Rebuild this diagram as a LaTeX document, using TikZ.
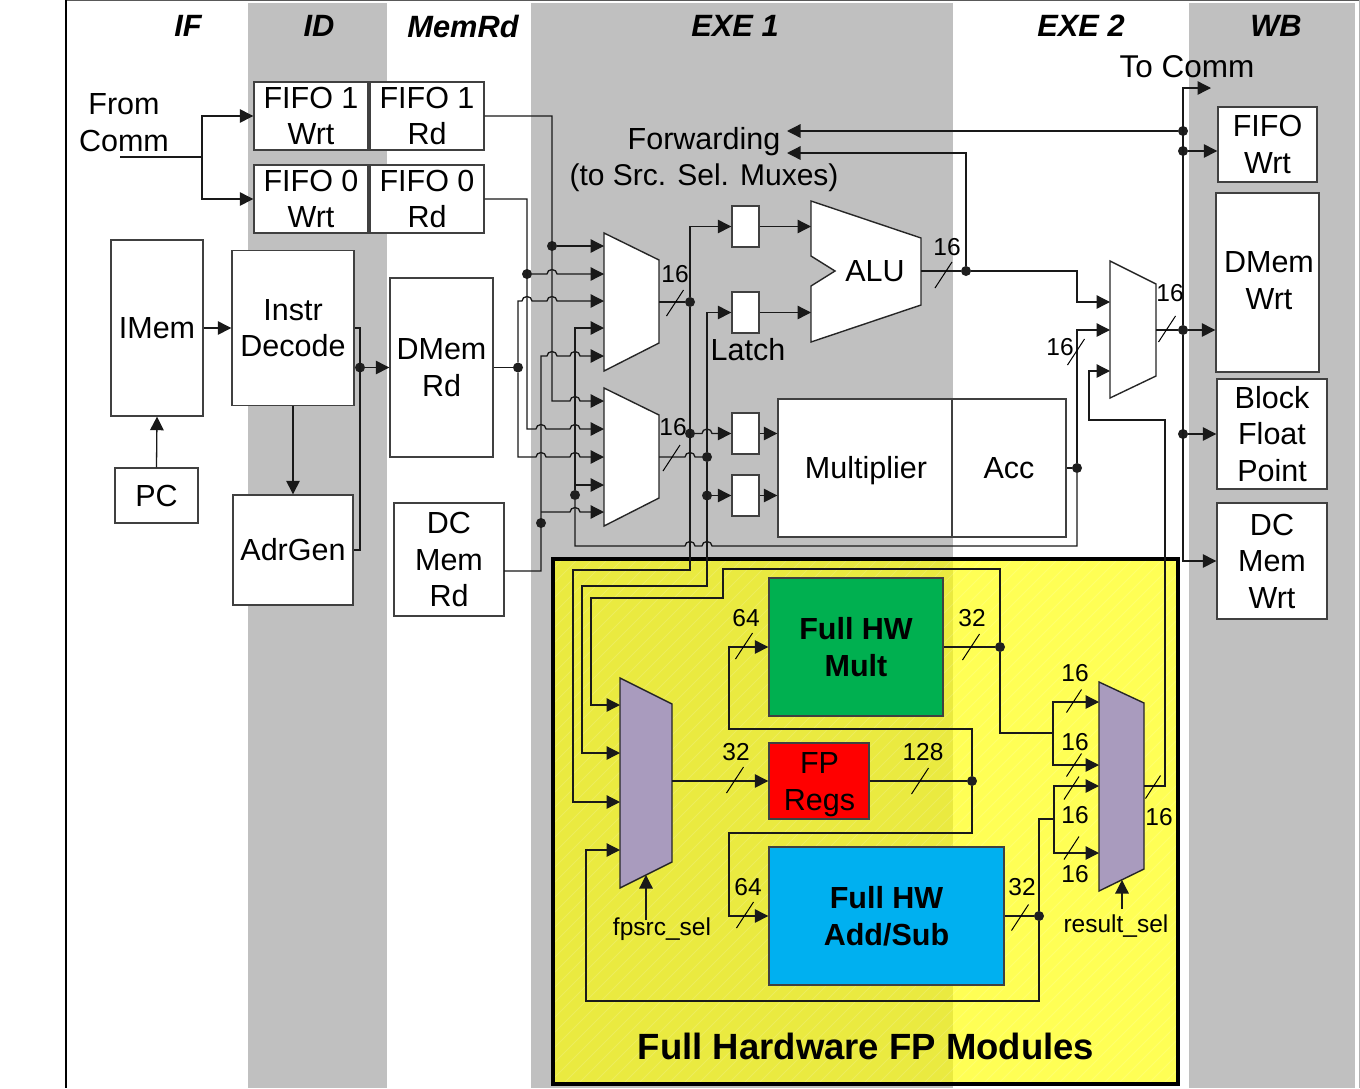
\documentclass[tikz,border=0pt]{standalone}
\usepackage{fontspec}
\setmainfont{Liberation Sans}
\usepackage{xcolor}
\usetikzlibrary{arrows.meta}
\definecolor{stageG}{HTML}{C0C0C0}
\definecolor{panelY}{HTML}{FFFF00}
\definecolor{multG}{HTML}{00B050}
\definecolor{addB}{HTML}{00B0F0}
\definecolor{regsR}{HTML}{FF0000}
\definecolor{muxP}{HTML}{A99BBE}
\newcommand{\hopover}[2]{-- (#1-5,#2) arc[start angle=180,end angle=360,x radius=5,y radius=4.5]}

\begin{document}
\begin{tikzpicture}[x=1pt, y=-1pt,
    line join=miter,
    txt/.style={font=\fontsize{30.5}{36.5}\selectfont, align=center, inner sep=0pt},
    stagetxt/.style={font=\fontsize{30.8}{36}\selectfont\bfseries\itshape, inner sep=0pt},
    bittxt/.style={font=\fontsize{24.5}{28}\selectfont, inner sep=0pt},
    blockbox/.style={draw=black!75, line width=1.4pt, fill=white, inner sep=0pt, align=center,
      font=\fontsize{30.5}{36.5}\selectfont},
    fpbox/.style={blockbox, font=\fontsize{30.5}{37}\selectfont\bfseries},
    muxwhite/.style={draw=black!85, line width=1.4pt, fill=white, line join=miter},
    muxpurple/.style={draw=black!85, line width=1.4pt, fill=muxP, line join=miter},
    wire/.style={draw=black!90, line width=1.3pt},
    arr/.style={wire, -{Triangle[length=13.5pt,width=13.5pt]}},
    jdot/.style={circle, fill=black!88, minimum size=10pt, inner sep=0pt},
    tick/.style={draw=black, line width=1pt}]
  \path[use as bounding box] (0,0) rectangle (1360,1088);

  % pipeline stage bands and the page frame
  \foreach \xa/\xb in {248/387, 531/953, 1189/1355}{
    \fill[stageG] (\xa,3) rectangle (\xb,1088);
  }
  \draw[black!65, line width=1.5pt] (66,0.7) -- (1360,0.7);
  \draw[black, line width=2pt] (66,0) -- (66,1088);
  \draw[black!30, line width=1pt] (1359.5,0) -- (1359.5,1088);

  \foreach \n/\x/\lab in {sif/188/IF, sid/319/ID, smem/463/MemRd, sexa/735/EXE 1, sexb/1081/EXE 2, swb/1276/WB}{
    \node[stagetxt] (\n) at (\x,26) {\lab};
  }

  % FP modules panel: see-through yellow with faint hatching
  \fill[panelY, fill opacity=0.667] (553,559) rectangle (1178,1084);
  \begin{scope}
    \clip (553,559) rectangle (1178,1084);
    \foreach \k in {0,15,...,1170}{
      \draw[white, opacity=0.16, line width=1pt] (553+\k-530,1084) -- (553+\k,554);
    }
  \end{scope}
  \node[draw=black, line width=4pt, minimum width=625pt, minimum height=525pt, inner sep=0pt]
    (fppanel) at (865.5,821.5) {};
  \node[inner sep=0pt, font=\fontsize{36.5}{40}\selectfont\bfseries] (fptitle) at (866,1046) {Full Hardware FP Modules};

  % blocks
  \node[blockbox, minimum width=114pt, minimum height=68pt] (fifoAw) at (311,116) {FIFO 1\\Wrt};
  \node[blockbox, minimum width=114pt, minimum height=68pt] (fifoAr) at (427,116) {FIFO 1\\Rd};
  \node[blockbox, minimum width=114pt, minimum height=68pt] (fifoBw) at (311,199) {FIFO 0\\Wrt};
  \node[blockbox, minimum width=114pt, minimum height=68pt] (fifoBr) at (427,199) {FIFO 0\\Rd};
  \node[blockbox, minimum width=92pt, minimum height=176pt] (imem) at (157,328) {IMem};
  \node[blockbox, minimum width=122pt, minimum height=155pt] (decode) at (293,328) {Instr\\Decode};
  \node[blockbox, minimum width=83pt, minimum height=55pt] (pc) at (156.5,495.5) {PC};
  \node[blockbox, minimum width=120pt, minimum height=110pt] (adrgen) at (293,550) {AdrGen};
  \node[blockbox, minimum width=103pt, minimum height=179pt] (dmemrd) at (441.5,367.5) {DMem\\Rd};
  \node[blockbox, minimum width=110pt, minimum height=113pt] (dcrd) at (449,559.5) {DC\\Mem\\Rd};
  \node[blockbox, minimum width=174pt, minimum height=138pt] (mult) at (865,468) {};
  \node[blockbox, minimum width=114pt, minimum height=138pt] (acc) at (1009,468) {Acc};
  \foreach \n/\y in {latchA/226.5, latchB/312.5, latchC/433.5, latchD/495.5}{
    \node[blockbox, minimum width=27pt, minimum height=41pt] (\n) at (745.5,\y) {};
  }
  \node[blockbox, minimum width=99pt, minimum height=75pt] (fifow) at (1267.5,144.5) {FIFO\\Wrt};
  \node[blockbox, minimum width=103pt, minimum height=179pt] (dmemw) at (1267.5,282.5) {};
  \node[blockbox, minimum width=110pt, minimum height=110pt] (bfp) at (1272,434) {Block\\Float\\Point};
  \node[blockbox, minimum width=110pt, minimum height=116pt] (dcw) at (1272,561) {DC\\Mem\\Wrt};
  \node[fpbox, fill=multG, minimum width=174pt, minimum height=138pt] (fpmult) at (856,647) {Full HW\\Mult};
  \node[blockbox, fill=regsR, minimum width=100pt, minimum height=76pt] (fpregs) at (819,781) {};
  \node[fpbox, fill=addB, minimum width=235pt, minimum height=138pt] (fpadd) at (886.5,916) {Full HW\\Add/Sub};

  % ALU and the muxes
  \draw[muxwhite] (811,201) -- (921,238) -- (921,305) -- (811,342) -- (811,286) -- (835,271) -- (811,256) -- cycle;
  \draw[muxwhite] (604,233) -- (659,260) -- (659,343) -- (604,371) -- cycle;
  \draw[muxwhite] (604,388) -- (659,415) -- (659,498) -- (604,526) -- cycle;
  \draw[muxwhite] (1110,261) -- (1156,284) -- (1156,376) -- (1110,398) -- cycle;
  \draw[muxpurple] (620,678) -- (672,704) -- (672,862) -- (620,888) -- cycle;
  \draw[muxpurple] (1099,682) -- (1144,703) -- (1144,869) -- (1099,891) -- cycle;
  \foreach \i/\y in {1/246, 2/274, 3/301, 4/328, 5/356}{
    \coordinate (muxA\i) at (604,\y);
  }
  \foreach \i/\y in {1/401, 2/429, 3/457, 4/485, 5/512}{
    \coordinate (muxB\i) at (604,\y);
  }
  \foreach \i/\y in {1/302, 2/330, 3/371}{
    \coordinate (muxC\i) at (1110,\y);
  }
  \foreach \i/\y in {1/705, 2/753, 3/802, 4/850}{
    \coordinate (muxD\i) at (620,\y);
  }
  \foreach \i/\y in {1/702, 2/765, 3/786, 4/853}{
    \coordinate (muxE\i) at (1099,\y);
  }
  \coordinate (muxAout) at (659,302);
  \coordinate (muxBout) at (659,457);
  \coordinate (muxCout) at (1156,330);
  \coordinate (muxDout) at (672,781);
  \coordinate (muxEout) at (1144,786);
  \coordinate (aluinA) at (811,226.5);
  \coordinate (aluinB) at (811,312.5);
  \coordinate (aluout) at (921,271);
  \coordinate (commin) at (120,157);
  \coordinate (commsplit) at (202,157);
  \coordinate (dcout) at (504,571);
  \coordinate (fwdA) at (787,131);
  \coordinate (fwdB) at (787,153);
  \coordinate (tocomm) at (1211,88);
  \coordinate (resA) at (1053,733);
  \coordinate (resB) at (1054,819);

  % junction dots
  \foreach \n/\x/\y in {jdec/360/367.5, jfa/552/246, jfb/527/274, jdm/518/367.5, jdc/541/523,
      jacc/1077/468, jfwd/575/495, jma/690/302, jlc/690/433.5, jmb/707/457, jld/707/495.5,
      jalu/966/271, jca/1183/131, jcb/1183/151, jwb/1183/330, jbf/1183/434,
      jmul/1000/647, jreg/972/781, jadd/1039/916}{
    \node[jdot] (\n) at (\x,\y) {};
  }

  % front end
  \draw[wire] (commin) -- (commsplit);
  \draw[arr] (commsplit) |- (fifoAw.west);
  \draw[arr] (commsplit) |- (fifoBw.west);
  \draw[arr] (imem.east) -- (decode.west);
  \draw[arr] (pc.north) -- (imem.south);
  \draw[arr] (decode.south) -- (adrgen.north);
  \draw[wire] (decode.east) -- (360,328) -- (360,550) -- (adrgen.east);
  \draw[arr] (jdec) -- (dmemrd.west);

  % operand buses into the source muxes
  \draw[arr] (fifoAr.east) -| (552,401) \hopover{575}{401} -- (muxB1);
  \draw[arr] (jfa) -- (muxA1);
  \draw[arr] (fifoBr.east) -| (527,429) \hopover{541}{429} \hopover{575}{429} -- (muxB2);
  \draw[arr] (jfb) \hopover{552}{274} -- (muxA2);
  \draw[wire] (dmemrd.east) -- (jdm);
  \draw[arr] (jdm) -- (518,301) \hopover{527}{301} \hopover{552}{301} -- (muxA3);
  \draw[arr] (jdm) -- (518,457) \hopover{541}{457} \hopover{575}{457} -- (muxB3);
  \draw[arr] (dcout) -| (541,356) \hopover{552}{356} \hopover{575}{356} -- (muxA5);
  \draw[arr] (jdc |- muxB5) \hopover{575}{512} -- (muxB5);
  \draw[wire] (acc.east) -- (jacc);
  \draw[wire] (jfwd) -- (575,546) \hopover{690}{546} \hopover{707}{546} -- (1077,546) -- (jacc);
  \draw[arr] (jfwd) |- (muxA4);
  \draw[arr] (jfwd |- muxB4) -- (muxB4);
  \draw[arr] (jacc) |- (muxC2);

  % mux outputs, latches, execute units
  \draw[wire] (muxAout) -- (jma);
  \draw[arr] (jma) |- (latchA.west);
  \draw[arr] (jma) -- (690,570) -| (573,802) -- (muxD3);
  \draw[arr] (jlc) \hopover{707}{433.5} -- (latchC.west);
  \draw[wire] (muxBout) \hopover{690}{457} -- (jmb);
  \draw[arr] (jmb) |- (latchB.west);
  \draw[arr] (jmb) -- (707,586) -| (582,753) -- (muxD2);
  \draw[arr] (jld) -- (latchD.west);
  \draw[arr] (latchA.east) -- (aluinA);
  \draw[arr] (latchB.east) -- (aluinB);
  \draw[arr] (latchC.east) -- (latchC.east -| mult.west);
  \draw[arr] (latchD.east) -- (latchD.east -| mult.west);
  \draw[wire] (aluout) -- (jalu);
  \draw[arr] (jalu) |- (fwdB);
  \draw[arr] (jalu) -- (1077,271) |- (muxC1);

  % write back
  \draw[wire] (muxCout) -- (jwb);
  \draw[arr] (jwb) |- (tocomm);
  \draw[arr] (jwb) |- (dcw.west);
  \draw[arr] (jwb) -- (jwb -| dmemw.west);
  \draw[arr] (jca) -- (fwdA);
  \draw[arr] (jcb) -- (jcb -| fifow.west);
  \draw[arr] (jbf) -- (bfp.west);
  \draw[arr] (muxEout) -| (1165,420) -| (1089,371) -- (muxC3);

  % FP modules wiring
  \draw[arr] (muxDout) -- (fpregs.west);
  \draw[wire] (fpmult.east) -- (jmul);
  \draw[arr] (jmul) |- (723,569) |- (591,598) -- (591,705) -- (muxD1);
  \draw[wire] (jmul) |- (resA);
  \draw[arr] (resA) |- (muxE1);
  \draw[arr] (resA) |- (muxE2);
  \draw[wire] (fpregs.east) -- (jreg);
  \draw[arr] (jreg) -- (972,729) -| (729,647) -- (fpmult.west);
  \draw[arr] (jreg) -- (972,833) -| (729,916) -- (fpadd.west);
  \draw[wire] (fpadd.east) -- (jadd);
  \draw[wire] (jadd) |- (resB);
  \draw[arr] (resB) |- (muxE3);
  \draw[arr] (resB) |- (muxE4);
  \draw[arr] (jadd) |- (586,1001) |- (muxD4);

  % select lines
  \coordinate (fpsel) at (646,920);
  \coordinate (fptip) at (646,875);
  \coordinate (ressel) at (1122,909);
  \coordinate (restip) at (1122,880);
  \draw[arr] (fpsel) -- (fptip);
  \draw[arr] (ressel) -- (restip);

  % bus width ticks
  \foreach \x/\y in {675/303, 671.5/458, 943.5/275, 1167/329, 1076/352, 744/646, 735/780,
      971/647, 920/781, 745/915, 1020/917.5}{
    \draw[tick] (\x-8.5,\y+13) -- (\x+8.5,\y-13);
  }
  \foreach \x/\y in {1074/701, 1074/765, 1071.5/788, 1071.5/848, 1153/787}{
    \draw[tick] (\x-7.5,\y+11.5) -- (\x+7.5,\y-11.5);
  }
  \foreach \n/\x/\y/\lab in {ba/675/274/16, bb/673/427/16, bc/947/247/16, bd/1170/293/16, be/1060/347/16,
      bf/746/618/64, bg/736/752/32, bh/972/618/32, bi/923/752/128, bj/748/887/64, bk/1022/887/32,
      bl/1075/673/16, bm/1075/742/16, bn/1075/815/16, bo/1075/874/16, bp/1159/817/16}{
    \node[bittxt] (\n) at (\x,\y) {\lab};
  }

  % labels
  \node[txt] (fromlab) at (124,104) {From};
  \node[txt] (commlab) at (124,141) {Comm};
  \node[txt, font=\fontsize{31.5}{36.5}\selectfont] (tolab) at (1187,67) {To Comm};
  \node[txt] (fwdlab) at (704,142) {Forwarding};
  \node[txt, font=\fontsize{30}{36.5}\selectfont] (srclab) at (704,178) {(to Src. Sel. Muxes)};
  \node[txt] (alulab) at (875,271) {ALU};
  \node[txt] (latchlab) at (748,350) {Latch};
  \node[txt] (multlab) at (866,471) {Multiplier};
  \node[txt] (dmemwlab) at (1269,262) {DMem};
  \node[txt] (wrtlab) at (1269,299) {Wrt};
  \node[txt] (regslab) at (819.5,763) {FP};
  \node[txt] (regslabb) at (819.5,803) {Regs};
  \node[bittxt] (fpsrclab) at (662,929) {fpsrc\_sel};
  \node[bittxt] (reslab) at (1116,926) {result\_sel};
\end{tikzpicture}
\end{document}
